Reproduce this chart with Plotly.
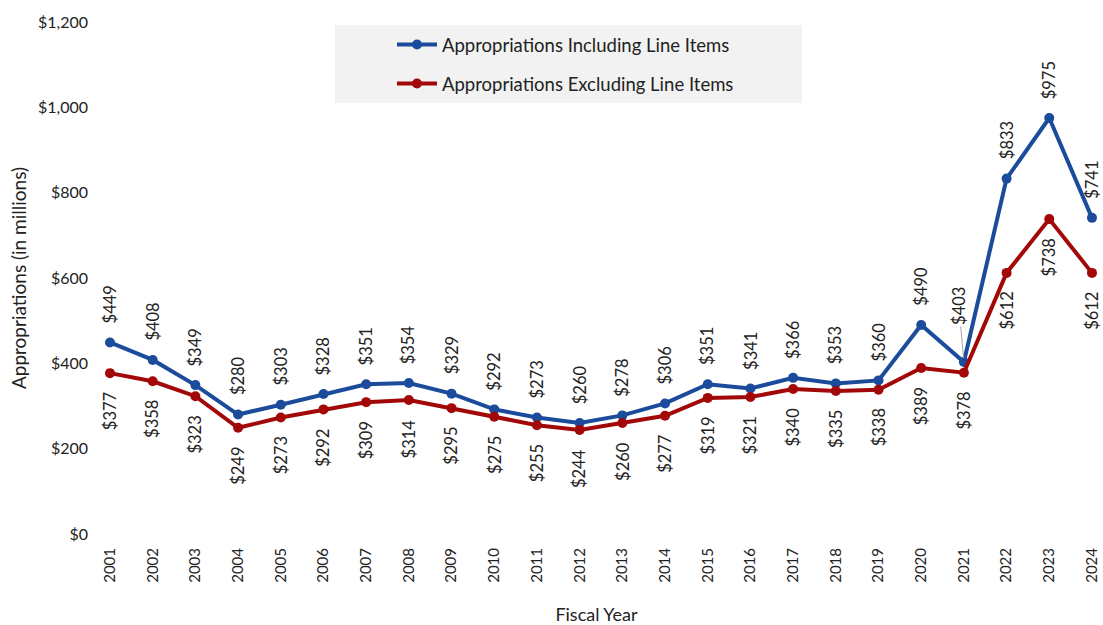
import plotly.graph_objects as go

years = list(range(2001, 2025))
incl = [449, 408, 349, 280, 303, 328, 351, 354, 329, 292, 273, 260, 278, 306,
        351, 341, 366, 353, 360, 490, 403, 833, 975, 741]
excl = [377, 358, 323, 249, 273, 292, 309, 314, 295, 275, 255, 244, 260, 277,
        319, 321, 340, 335, 338, 389, 378, 612, 738, 612]
y_ticks = [0, 200, 400, 600, 800, 1000, 1200]
y_ticktext = ["$0", "$200", "$400", "$600", "$800", "$1,000", "$1,200"]

BLUE = "#1b4b9b"
RED = "#a30808"
FONT = "Lato"
TXT = "#222222"
LBL = 16.5

fig = go.Figure()
fig.add_trace(go.Scatter(x=years, y=incl, mode="lines+markers",
                         name="Appropriations Including Line Items",
                         line=dict(color=BLUE, width=4), marker=dict(size=10, color=BLUE),
                         legendgroup="a", cliponaxis=False))
fig.add_trace(go.Scatter(x=years, y=excl, mode="lines+markers",
                         name="Appropriations Excluding Line Items",
                         line=dict(color=RED, width=4), marker=dict(size=10, color=RED),
                         legendgroup="b", cliponaxis=False))

ann = []
for yr, v in zip(years, incl):
    if yr == 2021:
        ann.append(dict(x=yr, y=v, xref="x", yref="y", text=f"${v}", textangle=-90,
                        showarrow=True, ax=-5, ay=-56, arrowhead=0, arrowwidth=1,
                        arrowcolor="#a6a6a6", standoff=4,
                        font=dict(family=FONT, size=LBL, color=TXT)))
    else:
        ann.append(dict(x=yr, y=v, xref="x", yref="y", text=f"${v}", textangle=-90,
                        showarrow=False, yanchor="bottom", xanchor="center", yshift=17,
                        font=dict(family=FONT, size=LBL, color=TXT)))
for yr, v in zip(years, excl):
    ann.append(dict(x=yr, y=v, xref="x", yref="y", text=f"${v}", textangle=-90,
                    showarrow=False, yanchor="top", xanchor="center", yshift=-17,
                    font=dict(family=FONT, size=LBL, color=TXT)))

fig.update_layout(
    width=1103, height=625,
    margin=dict(l=95, r=5, t=22, b=91, autoexpand=False),
    paper_bgcolor="white", plot_bgcolor="white",
    font=dict(family=FONT, color=TXT),
    annotations=ann,
    showlegend=True,
    legend=dict(x=(392 - 95) / 1003, y=(534 - 26) / 512,
                xanchor="left", yanchor="top", bgcolor="rgba(0,0,0,0)",
                font=dict(family=FONT, size=18.5, color=TXT), tracegroupgap=12,
                itemwidth=40),
    shapes=[dict(type="rect", xref="paper", yref="paper",
                 x0=(335 - 95) / 1003, x1=(802 - 95) / 1003,
                 y0=(534 - 103) / 512, y1=(534 - 25) / 512,
                 fillcolor="#f2f2f2", line=dict(width=0), layer="below")],
    xaxis=dict(range=[2000.649, 2024.141], tickvals=years, ticktext=[str(y) for y in years],
               tickangle=-90, showgrid=False, zeroline=False, showline=False, ticks="",
               ticklabelstandoff=10, tickfont=dict(family=FONT, size=15, color=TXT),
               title=dict(text="Fiscal Year", font=dict(family=FONT, size=18, color=TXT),
                          standoff=28)),
    yaxis=dict(range=[0, 1200], tickvals=y_ticks, ticktext=y_ticktext,
               showgrid=False, zeroline=False, showline=False, ticks="",
               ticklabelstandoff=6, tickfont=dict(family=FONT, size=16, color=TXT),
               title=dict(text="Appropriations (in millions)",
                          font=dict(family=FONT, size=19, color=TXT), standoff=6)),
)

fig.write_html("out.html")
